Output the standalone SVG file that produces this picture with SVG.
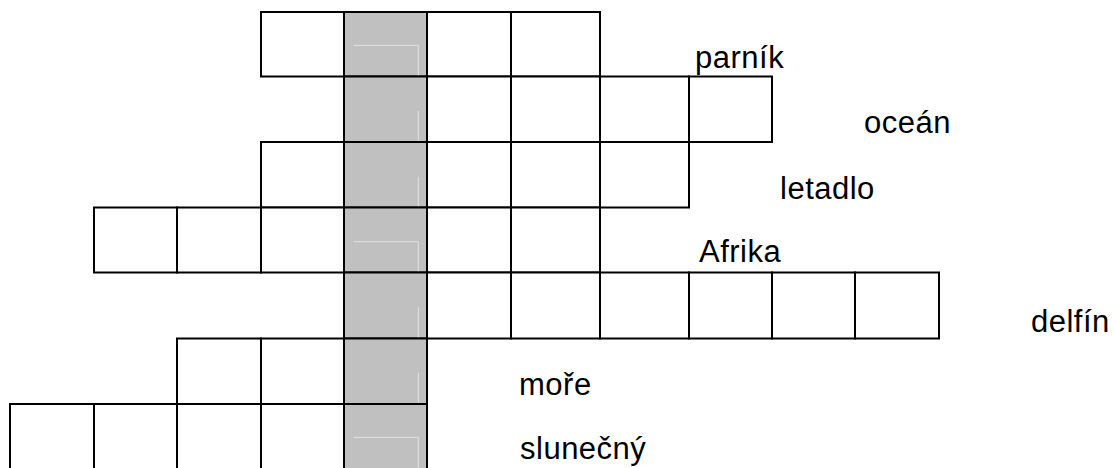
<svg xmlns="http://www.w3.org/2000/svg" width="1113" height="468" viewBox="0 0 1113 468">
<style>
.c{fill:#fff;stroke:#000;stroke-width:2}
.g{fill:#c0c0c0;stroke:#000;stroke-width:2}
.hl{fill:none;stroke:#e2e2e2;stroke-width:1}
.t{font-family:"Liberation Sans",Arial,sans-serif;font-size:31px;letter-spacing:0.5px;fill:#000}
</style>
<rect width="1113" height="468" fill="#fff"/>
<g id="row1-parnik">
<rect class="c" x="261" y="12" width="83" height="64.5"/>
<rect class="g" x="344" y="12" width="83" height="64.5"/>
<rect class="c" x="427" y="12" width="84" height="64.5"/>
<rect class="c" x="511" y="12" width="89" height="64.5"/>
<path class="hl" d="M353.3 45.3H418.3V75.5"/>
</g>
<g id="row2-ocean">
<rect class="g" x="344" y="76.5" width="83" height="65.5"/>
<rect class="c" x="427" y="76.5" width="84" height="65.5"/>
<rect class="c" x="511" y="76.5" width="89" height="65.5"/>
<rect class="c" x="600" y="76.5" width="89" height="65.5"/>
<rect class="c" x="689" y="76.5" width="83" height="65.5"/>
<path class="hl" d="M418.3 111V141"/>
</g>
<g id="row3-letadlo">
<rect class="c" x="261" y="142" width="83" height="65.5"/>
<rect class="g" x="344" y="142" width="83" height="65.5"/>
<rect class="c" x="427" y="142" width="84" height="65.5"/>
<rect class="c" x="511" y="142" width="89" height="65.5"/>
<rect class="c" x="600" y="142" width="89" height="65.5"/>
<path class="hl" d="M418.3 176.7V206.5"/>
</g>
<g id="row4-afrika">
<rect class="c" x="94" y="207.5" width="83" height="65"/>
<rect class="c" x="177" y="207.5" width="84" height="65"/>
<rect class="c" x="261" y="207.5" width="83" height="65"/>
<rect class="g" x="344" y="207.5" width="83" height="65"/>
<rect class="c" x="427" y="207.5" width="84" height="65"/>
<rect class="c" x="511" y="207.5" width="89" height="65"/>
<path class="hl" d="M353.3 241.7H418.3V271.5"/>
</g>
<g id="row5-delfin">
<rect class="g" x="344" y="272.5" width="83" height="66"/>
<rect class="c" x="427" y="272.5" width="84" height="66"/>
<rect class="c" x="511" y="272.5" width="89" height="66"/>
<rect class="c" x="600" y="272.5" width="89" height="66"/>
<rect class="c" x="689" y="272.5" width="83" height="66"/>
<rect class="c" x="772" y="272.5" width="83" height="66"/>
<rect class="c" x="855" y="272.5" width="84" height="66"/>
<path class="hl" d="M418.3 307.3V337.5"/>
</g>
<g id="row6-more">
<rect class="c" x="177" y="338.5" width="84" height="65.5"/>
<rect class="c" x="261" y="338.5" width="83" height="65.5"/>
<rect class="g" x="344" y="338.5" width="83" height="65.5"/>
<path class="hl" d="M418.3 372.7V403"/>
</g>
<g id="row7-slunecny">
<rect class="c" x="10" y="404" width="84" height="66"/>
<rect class="c" x="94" y="404" width="83" height="66"/>
<rect class="c" x="177" y="404" width="84" height="66"/>
<rect class="c" x="261" y="404" width="83" height="66"/>
<rect class="g" x="344" y="404" width="83" height="66"/>
<path class="hl" d="M353.3 437.3H418.3V469"/>
</g>
<g id="labels">
<text class="t" x="695" y="68">parník</text>
<text class="t" x="864" y="133">oceán</text>
<text class="t" x="780" y="198.5">letadlo</text>
<text class="t" x="699" y="262.3">Afrika</text>
<text class="t" x="1031" y="331.5">delfín</text>
<text class="t" x="519" y="395">moře</text>
<text class="t" x="520" y="458.5">slunečný</text>
</g>
</svg>
